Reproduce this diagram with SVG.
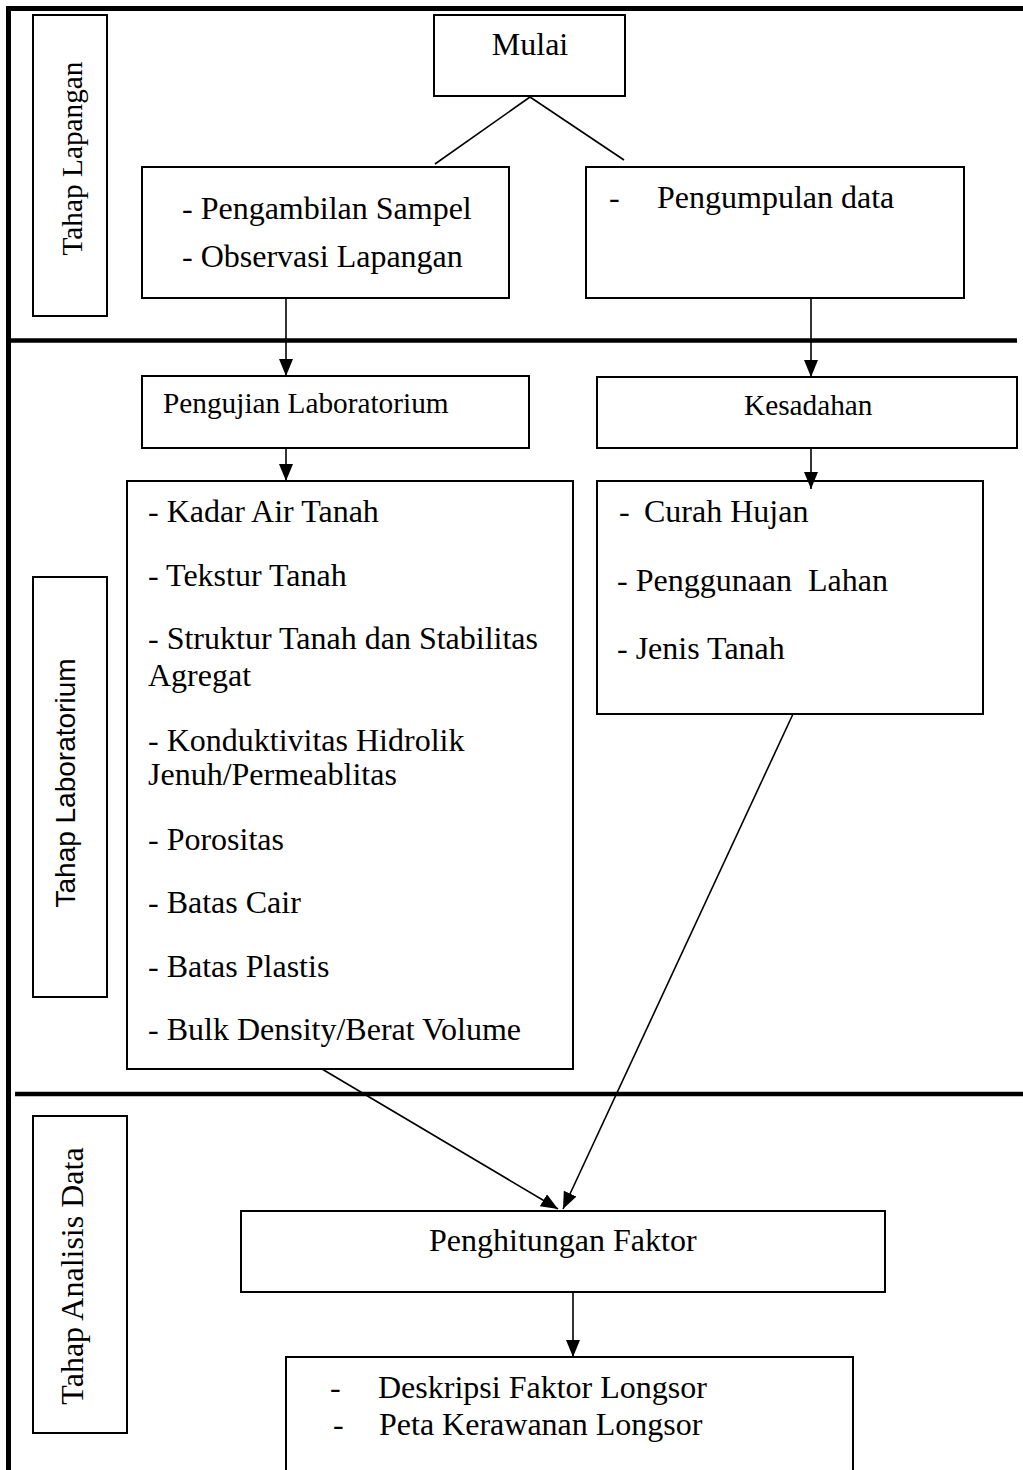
<svg xmlns="http://www.w3.org/2000/svg" width="1023" height="1470" viewBox="0 0 1023 1470">
<style>
.box{fill:#fff;stroke:#000;stroke-width:2}
.t{font-family:"Liberation Serif","Times New Roman",serif;font-size:32px;fill:#000}
.s{font-family:"Liberation Serif","Times New Roman",serif;font-size:29.3px;fill:#000}
.sans{font-family:"Liberation Sans",Arial,sans-serif;font-size:28px;fill:#000}
.frame{stroke:#000;stroke-width:5;fill:none}
.sep{stroke:#000;stroke-width:4.5;fill:none}
.con{stroke:#000;stroke-width:1.6;fill:none}
.arr{stroke:#000;stroke-width:1.6;fill:none;marker-end:url(#ah)}
</style>
<defs>
<marker id="ah" markerUnits="userSpaceOnUse" markerWidth="18" markerHeight="16" refX="17" refY="7" orient="auto">
<path d="M0,0 L17,7 L0,14 Z" fill="#000"/>
</marker>
</defs>
<rect width="1023" height="1470" fill="#fff"/>
<g id="frame">
<line class="frame" x1="8.5" y1="6" x2="8.5" y2="1470"/>
<line class="frame" x1="6" y1="8.5" x2="1023" y2="8.5"/>
<line class="sep" x1="8" y1="340.5" x2="1017" y2="340.5"/>
<line class="sep" x1="15" y1="1094" x2="1023" y2="1094"/>
</g>
<g id="label-lapangan">
<rect class="box" x="33" y="15" width="74" height="301"/>
<text class="s" text-anchor="middle" transform="translate(82,158.5) rotate(-90)">Tahap Lapangan</text>
</g>
<g id="label-laboratorium">
<rect class="box" x="33" y="577" width="74" height="420"/>
<text class="sans" text-anchor="middle" transform="translate(75,783) rotate(-90)">Tahap Laboratorium</text>
</g>
<g id="label-analisis">
<rect class="box" x="33" y="1116" width="94" height="317"/>
<text class="t" text-anchor="middle" transform="translate(83,1276) rotate(-90)">Tahap Analisis Data</text>
</g>
<g id="mulai">
<rect class="box" x="434" y="15" width="191" height="81"/>
<text class="t" x="530" y="55" text-anchor="middle">Mulai</text>
</g>
<g id="sampel">
<rect class="box" x="142" y="167" width="367" height="131"/>
<text class="t" x="182" y="219">- Pengambilan Sampel</text>
<text class="t" x="182" y="267">- Observasi Lapangan</text>
</g>
<g id="pengumpulan">
<rect class="box" x="586" y="167" width="378" height="131"/>
<text class="t" x="609" y="208">-</text>
<text class="t" x="657" y="208">Pengumpulan data</text>
</g>
<g id="pengujian">
<rect class="box" x="142" y="376" width="387" height="72"/>
<text class="s" x="163" y="413">Pengujian Laboratorium</text>
</g>
<g id="kesadahan">
<rect class="box" x="597" y="377" width="420" height="71"/>
<text class="s" x="744" y="415">Kesadahan</text>
</g>
<g id="lab-list">
<rect class="box" x="127" y="481" width="446" height="588"/>
<text class="t" x="148" y="522">- Kadar Air Tanah</text>
<text class="t" x="148" y="586">- Tekstur Tanah</text>
<text class="t" x="148" y="649">- Struktur Tanah dan Stabilitas</text>
<text class="t" x="148" y="686">Agregat</text>
<text class="t" x="148" y="751">- Konduktivitas Hidrolik</text>
<text class="t" x="148" y="785">Jenuh/Permeablitas</text>
<text class="t" x="148" y="850">- Porositas</text>
<text class="t" x="148" y="913">- Batas Cair</text>
<text class="t" x="148" y="977">- Batas Plastis</text>
<text class="t" x="148" y="1040">- Bulk Density/Berat Volume</text>
</g>
<g id="factor-list">
<rect class="box" x="597" y="481" width="386" height="233"/>
<text class="t" x="619" y="522">-</text>
<text class="t" x="644" y="522">Curah Hujan</text>
<text class="t" x="617" y="591">- Penggunaan</text>
<text class="t" x="808" y="591">Lahan</text>
<text class="t" x="617" y="659">- Jenis Tanah</text>
</g>
<g id="penghitungan">
<rect class="box" x="241" y="1211" width="644" height="81"/>
<text class="t" x="429" y="1251">Penghitungan Faktor</text>
</g>
<g id="hasil">
<rect class="box" x="286" y="1357" width="567" height="130"/>
<text class="t" x="330" y="1398">-</text>
<text class="t" x="378" y="1398">Deskripsi Faktor Longsor</text>
<text class="t" x="333" y="1435">-</text>
<text class="t" x="379" y="1435">Peta Kerawanan Longsor</text>
</g>
<g id="connectors">
<line class="con" x1="530" y1="97" x2="435" y2="164"/>
<line class="con" x1="530" y1="97" x2="624" y2="160"/>
<line class="arr" x1="286" y1="298" x2="286" y2="376"/>
<line class="arr" x1="811" y1="298" x2="811" y2="377"/>
<line class="arr" x1="286" y1="448" x2="286" y2="481"/>
<line class="arr" x1="811" y1="448" x2="811" y2="489"/>
<line class="arr" x1="322" y1="1069" x2="558" y2="1209"/>
<line class="arr" x1="793" y1="714" x2="563" y2="1209"/>
<line class="arr" x1="573" y1="1292" x2="573" y2="1357"/>
</g>
</svg>
